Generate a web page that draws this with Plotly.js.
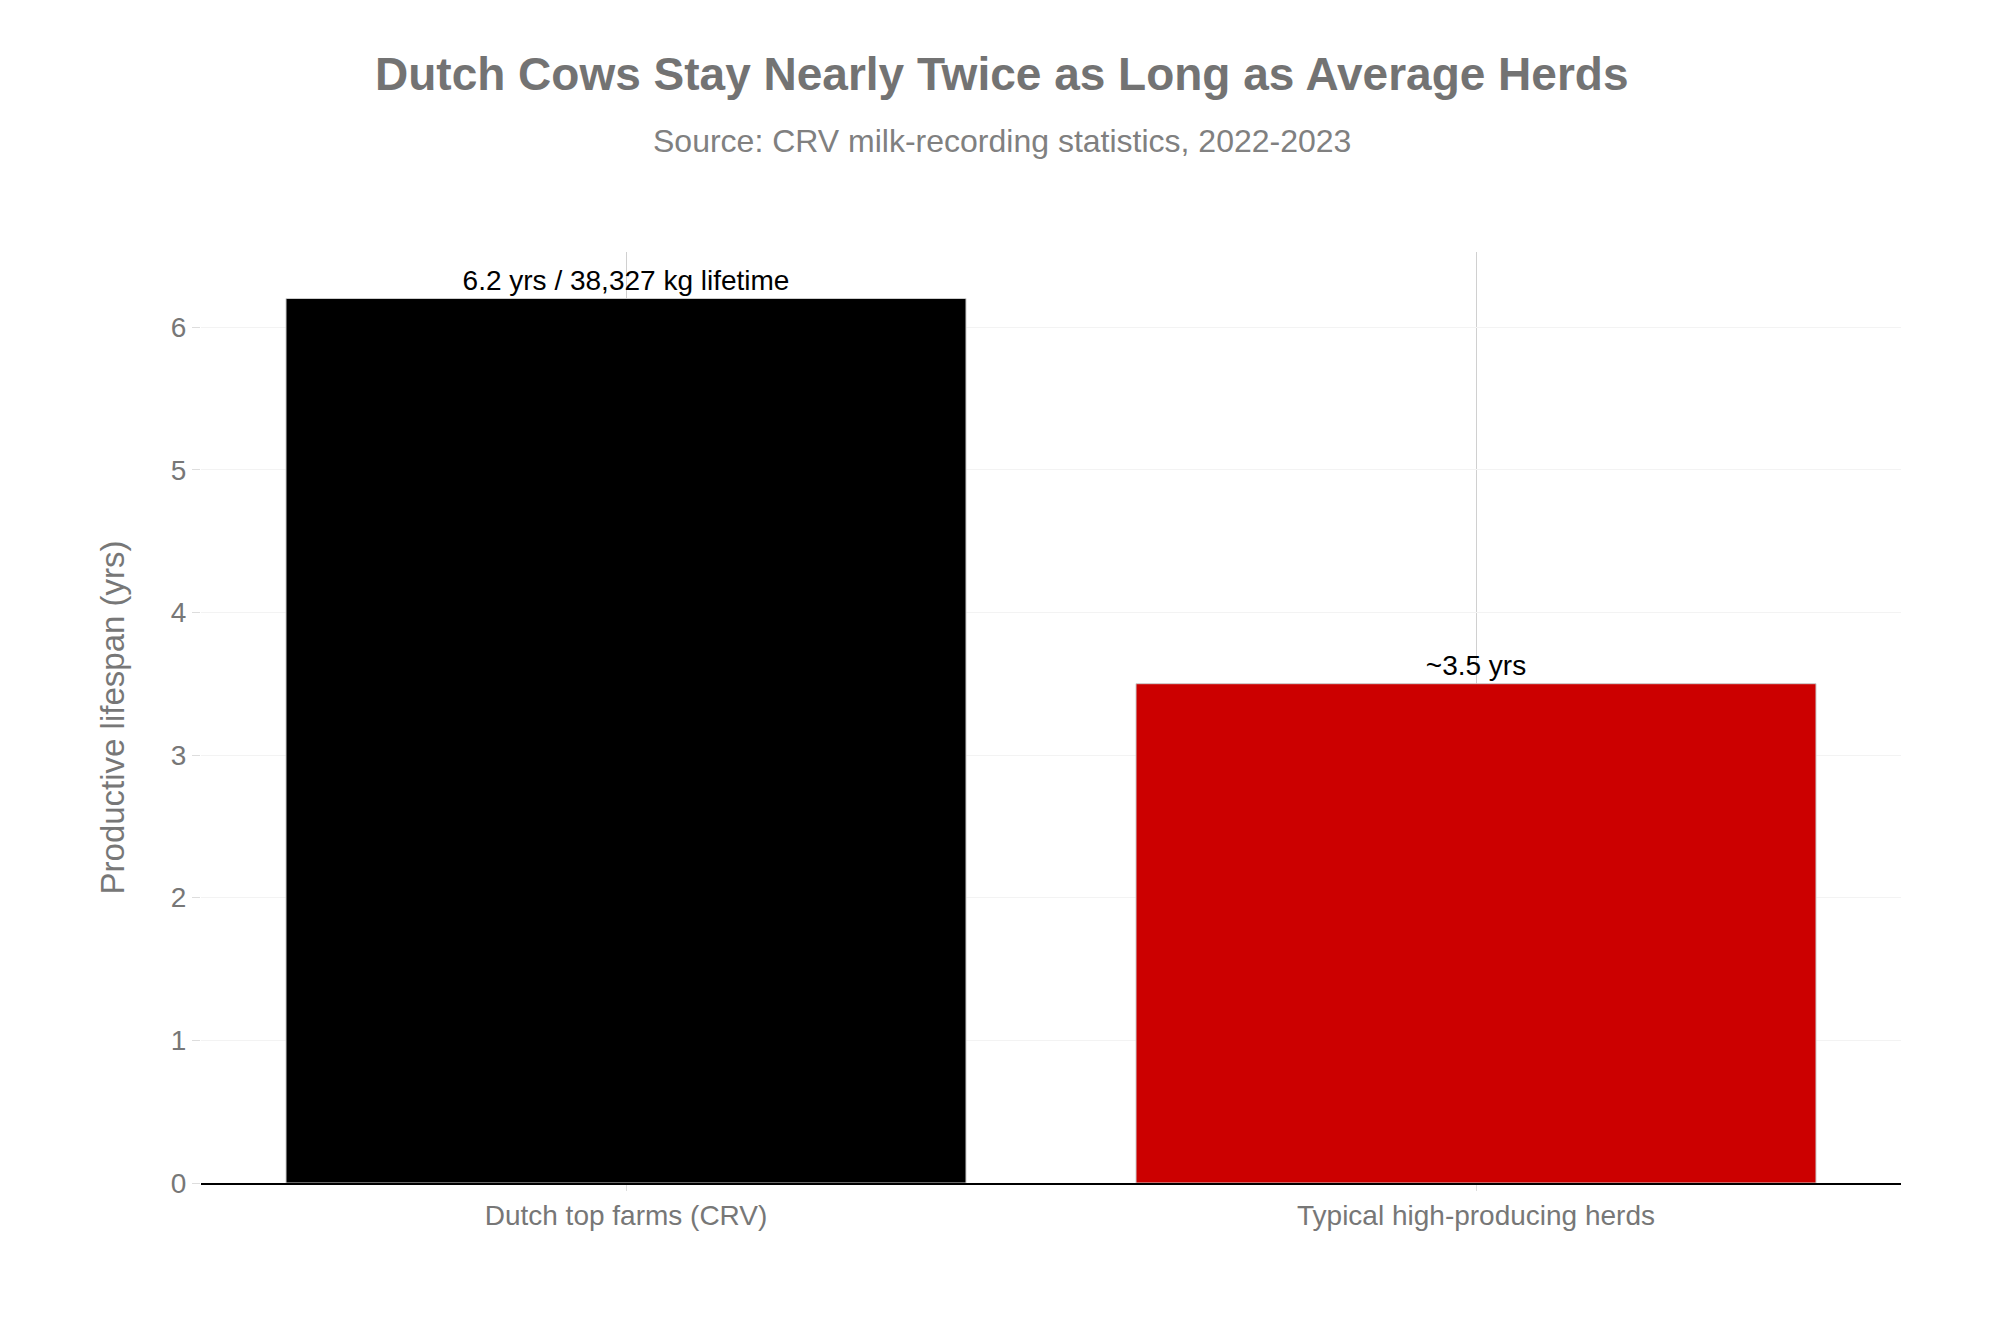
<!DOCTYPE html>
<html>
<head>
<meta charset="utf-8">
<script src="https://cdn.plot.ly/plotly-3.0.1.min.js"></script>
<style>html,body{margin:0;padding:0;background:#fff;}#chart{width:2000px;height:1333px;}</style>
</head>
<body>
<div id="chart"></div>
<script>
var categories = ["Dutch top farms (CRV)", "Typical high-producing herds"];
var lifespanYears = [6.2, 3.5];
var barLabels = ["6.2 yrs / 38,327 kg lifetime", "~3.5 yrs"];
var barColors = ["#000000", "#cc0000"];
var yTicks = [0, 1, 2, 3, 4, 5, 6];

var FONT = "Liberation Sans, Arial, Helvetica, sans-serif";

var trace = {
  type: "bar",
  x: categories,
  y: lifespanYears,
  text: barLabels,
  textposition: "outside",
  cliponaxis: false,
  textfont: {family: FONT, size: 28, color: "#000000"},
  marker: {color: barColors, line: {color: "#cccccc", width: 1}},
  hoverinfo: "none"
};

var layout = {
  width: 2000,
  height: 1333,
  paper_bgcolor: "#ffffff",
  plot_bgcolor: "#ffffff",
  margin: {l: 201, r: 99, t: 252, b: 150},
  font: {family: FONT, color: "#777777"},
  showlegend: false,
  bargap: 0.2,
  xaxis: {
    showgrid: true,
    gridcolor: "#d0d0d0",
    gridwidth: 1,
    ticks: "outside",
    ticklen: 6,
    tickcolor: "#dddddd",
    tickfont: {family: FONT, size: 28, color: "#777777"},
    showline: true,
    linecolor: "#000000",
    linewidth: 2,
    zeroline: false
  },
  yaxis: {
    range: [0, 6.526],
    tickvals: yTicks,
    showgrid: true,
    gridcolor: "#f3f3f3",
    gridwidth: 1,
    ticks: "outside",
    ticklen: 8,
    tickcolor: "#dddddd",
    tickfont: {family: FONT, size: 28, color: "#777777"},
    zeroline: false,
    showline: false,
    title: {text: "Productive lifespan (yrs)", font: {family: FONT, size: 33, color: "#777777"}, standoff: 36}
  },
  annotations: [
    {text: "<b>Dutch Cows Stay Nearly Twice as Long as Average Herds</b>", xref: "paper", yref: "paper",
     x: 0.471, y: 1, xanchor: "center", yanchor: "middle", showarrow: false,
     yshift: 252 - 74, font: {family: FONT, size: 46, color: "#737373"}},
    {text: "Source: CRV milk-recording statistics, 2022-2023", xref: "paper", yref: "paper",
     x: 0.471, y: 1, xanchor: "center", yanchor: "middle", showarrow: false,
     yshift: 252 - 141, font: {family: FONT, size: 32, color: "#808080"}}
  ]
};

Plotly.newPlot("chart", [trace], layout, {displayModeBar: false, staticPlot: true});
</script>
</body>
</html>
